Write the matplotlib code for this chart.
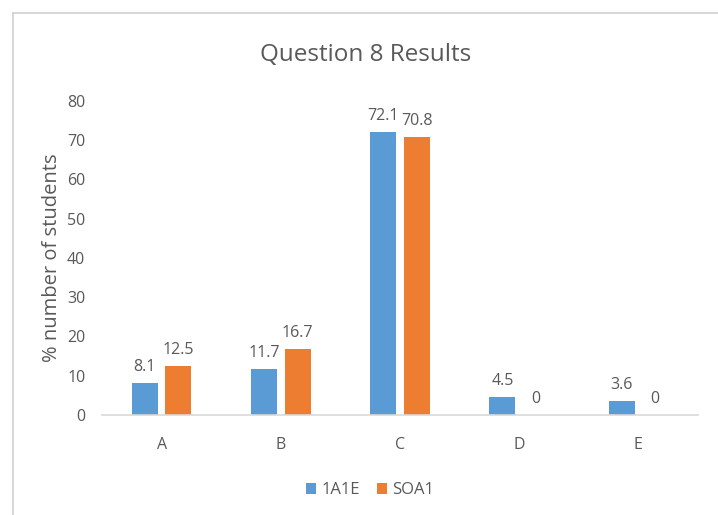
import matplotlib
matplotlib.use("Agg")
import matplotlib.pyplot as plt
from matplotlib.lines import Line2D
import numpy as np

categories = ["A", "B", "C", "D", "E"]
series_names = ["1A1E", "SOA1"]
values_1a1e = [8.1, 11.7, 72.1, 4.5, 3.6]
values_soa1 = [12.5, 16.7, 70.8, 0, 0]
label_1a1e = ["8.1", "11.7", "72.1", "4.5", "3.6"]
label_soa1 = ["12.5", "16.7", "70.8", "0", "0"]
yticks = [0, 10, 20, 30, 40, 50, 60, 70, 80]

W, H = 718, 515
plt.rcParams['font.family'] = ['Open Sans', 'DejaVu Sans']
fig = plt.figure(figsize=(W / 100, H / 100), dpi=100)
fig.patch.set_facecolor("white")

# outer chart frame
fig.add_artist(Line2D([13 / W, 13 / W], [0, 1 - 13 / H], color="#D0D0D0", lw=1.2, transform=fig.transFigure))
fig.add_artist(Line2D([13 / W, 1], [1 - 13 / H, 1 - 13 / H], color="#D0D0D0", lw=1.2, transform=fig.transFigure))

ax = fig.add_axes([102 / W, 1 - 415 / H, (698 - 102) / W, (415 - 101) / H])
x = np.arange(len(categories))
bw = 0.218
off = 0.141
c1, c2 = "#5B9BD5", "#ED7D31"
b1 = ax.bar(x - off, values_1a1e, bw, color=c1, label=series_names[0])
b2 = ax.bar(x + off, values_soa1, bw, color=c2, label=series_names[1])

txt = "#595959"
for rects, labs in ((b1, label_1a1e), (b2, label_soa1)):
    for r, l in zip(rects, labs):
        ax.annotate(l, (r.get_x() + r.get_width() / 2, r.get_height()),
                    xytext=(0, 6), textcoords="offset points",
                    ha="center", va="bottom", fontsize=11.5, color=txt)

ax.set_xlim(-0.5, len(categories) - 0.5)
ax.set_ylim(0, 80)
ax.set_yticks(yticks)
ax.set_xticks(x)
ax.set_xticklabels(categories)
ax.tick_params(axis="both", length=0, labelsize=11.5, colors=txt)
ax.tick_params(axis="y", pad=12)
ax.tick_params(axis="x", pad=16)
for s in ("top", "right", "left"):
    ax.spines[s].set_visible(False)
ax.spines["bottom"].set_color("#D9D9D9")
ax.spines["bottom"].set_linewidth(1.2)

ax.set_ylabel("% number of students", fontsize=14.5, color=txt, labelpad=4)
fig.text(366 / W, 1 - 55 / H, "Question 8 Results", ha="center", va="center",
         fontsize=17.5, color=txt)

leg = fig.legend(handles=[b1, b2], labels=series_names, loc="center",
                 bbox_to_anchor=(370 / W, 1 - 490 / H), ncol=2, frameon=False,
                 fontsize=12, handlelength=0.65, handleheight=0.65, handletextpad=0.3,
                 columnspacing=1.0)
for t in leg.get_texts():
    t.set_color(txt)

fig.savefig("out.png", dpi=100)
